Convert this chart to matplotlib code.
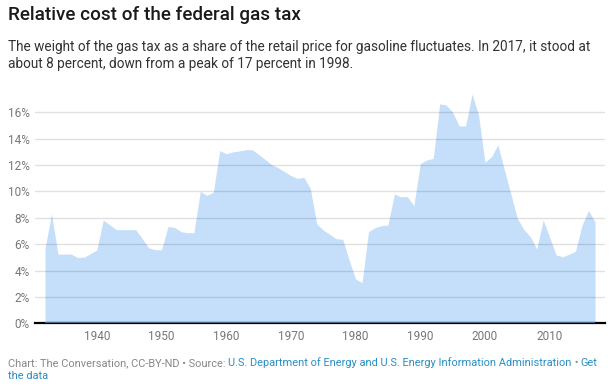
import numpy as np
import matplotlib
matplotlib.use("Agg")
import matplotlib.pyplot as plt

plt.rcParams['font.family'] = ['Roboto', 'DejaVu Sans']

years = list(range(1932, 2018))
share = [5.7, 8.3, 5.25, 5.25, 5.25, 5.0, 5.0, 5.27, 5.56, 7.83,
         7.46, 7.1, 7.1, 7.1, 7.1, 6.44, 5.73, 5.58, 5.58, 7.33,
         7.28, 6.95, 6.87, 6.87, 10.0, 9.7, 9.93, 13.09, 12.86, 12.99,
         13.06, 13.16, 13.16, 12.81, 12.43, 12.03, 11.8, 11.5, 11.2, 10.98,
         11.07, 10.23, 7.53, 7.07, 6.75, 6.41, 6.37, 4.8, 3.36, 3.08,
         6.95, 7.25, 7.4, 7.45, 9.8, 9.6, 9.6, 8.92, 12.1, 12.38,
         12.5, 16.63, 16.55, 16.0, 14.96, 14.96, 17.38, 15.8, 12.2, 12.63,
         13.52, 11.62, 9.8, 7.96, 7.12, 6.57, 5.63, 7.83, 6.52, 5.18,
         5.05, 5.23, 5.48, 7.45, 8.54, 7.7]
yticks = [0, 2, 4, 6, 8, 10, 12, 14, 16]
xticks = [1940, 1950, 1960, 1970, 1980, 1990, 2000, 2010]

title = "Relative cost of the federal gas tax"
subtitle = ("The weight of the gas tax as a share of the retail price for gasoline fluctuates. In 2017, it stood at\n"
            "about 8 percent, down from a peak of 17 percent in 1998.")

fig = plt.figure(figsize=(6.1, 3.9), dpi=100)
ax = fig.add_axes([0.0574, 0.171, 0.9344, 0.592])

ax.fill_between(years, 0, share, color='#c5dffb', lw=0, zorder=1)
ax.plot([years[0], years[-1]], [0, 0], color='#4b6584', lw=1.6, zorder=4, solid_capstyle='butt')

ax.set_xlim(1930.45, 2018.55)
ax.set_ylim(0, 17.5)
ax.set_yticks(yticks)
ax.set_yticklabels([f"{v}%" for v in yticks])
ax.set_xticks(xticks)
for v in yticks[1:]:
    ax.axhline(v, color='black', alpha=0.12, lw=1, zorder=2)

for s in ['top', 'right', 'left']:
    ax.spines[s].set_visible(False)
ax.spines['bottom'].set_color('black')
ax.spines['bottom'].set_linewidth(1.6)
ax.spines['bottom'].set_zorder(3)
ax.tick_params(axis='both', length=0, labelsize=8.5, labelcolor='#777777')
ax.tick_params(axis='y', pad=4)
ax.tick_params(axis='x', pad=5)

fig.text(0.013, 0.985, title, fontsize=13.6, fontweight='medium', color='#1a1a1a', va='top')
fig.text(0.013, 0.898, subtitle, fontsize=9.8, color='#333333', va='top', linespacing=1.25)

# footer made of grey and blue pieces
grey = '#888888'
blue = '#2a8fc4'
pieces = [("Chart: The Conversation, CC-BY-ND \u2022 Source: ", grey),
          ("U.S. Department of Energy and U.S. Energy Information Administration", blue),
          (" \u2022 ", grey),
          ("Get", blue)]
fig.canvas.draw()
r = fig.canvas.get_renderer()
x = 0.013 * 610
y = 390 - 363
for txt, col in pieces:
    t = fig.text(x / 610, y / 390, txt, fontsize=7.95, color=col, va='center')
    bb = t.get_window_extent(renderer=r)
    x += bb.width
fig.text(0.013, (390 - 376) / 390, "the data", fontsize=7.95, color=blue, va='center')

fig.savefig("out.png", dpi=100)
